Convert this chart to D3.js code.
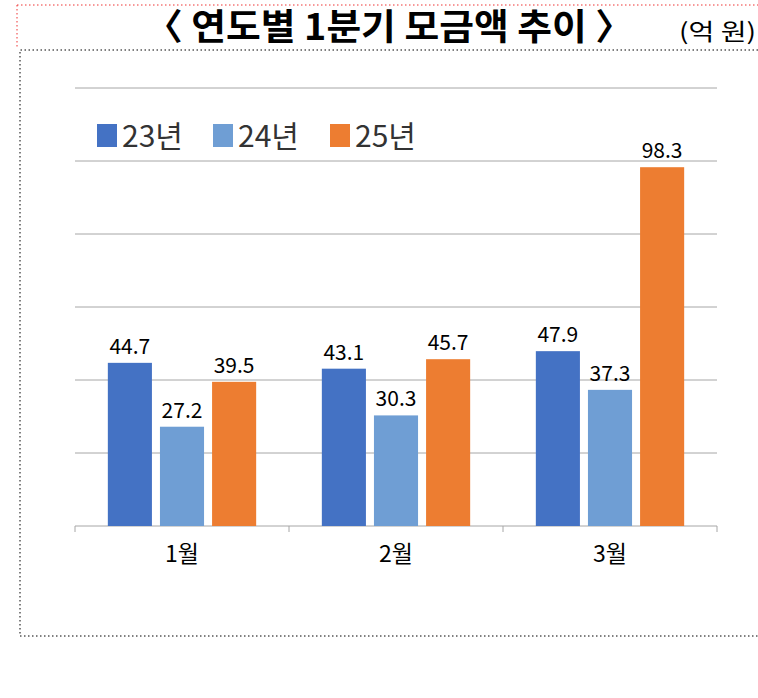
<!DOCTYPE html><html><head><meta charset="utf-8"><script src="https://cdn.jsdelivr.net/npm/d3@7"></script>
<style>body{margin:0;background:#fff}</style></head><body><svg id="c" width="758" height="698"></svg>
<script>
const categories=["1월","2월","3월"];
const seriesNames=["23년","24년","25년"];
const v23=[44.7,43.1,47.9];
const v24=[27.2,30.3,37.3];
const v25=[39.5,45.7,98.3];
const colors=["#4472C4","#6F9ED4","#ED7D31"];
const yTicks=[0,20,40,60,80,100,120];
const svg=d3.select("#c");
const F="'Noto Sans CJK KR','Noto Sans',sans-serif";
svg.append("line").attr("x1",17).attr("x2",758).attr("y1",5).attr("y2",5).attr("stroke","#e33").attr("stroke-dasharray","1.5,2.5");
svg.append("line").attr("x1",17).attr("x2",17).attr("y1",5).attr("y2",48).attr("stroke","#e33").attr("stroke-dasharray","1.5,2.5");
svg.append("path").attr("d","M758,50 H20 V636 H758").attr("fill","none").attr("stroke","#000").attr("stroke-dasharray","1.5,2.5");
svg.append("text").attr("x",145).attr("y",40).attr("textLength",488).attr("lengthAdjust","spacingAndGlyphs").attr("font-family",F).attr("font-weight","bold").attr("font-size",36).text("〈 연도별 1분기 모금액 추이 〉");
svg.append("text").attr("x",679).attr("y",40).attr("textLength",77).attr("lengthAdjust","spacingAndGlyphs").attr("font-family",F).attr("font-size",23).text("(억 원)");
const x=d3.scaleBand().domain(categories).range([75,717]);
const y=d3.scaleLinear().domain([0,120]).range([526,88]);
const xs=d3.scaleBand().domain(seriesNames).range([0,x.bandwidth()]).paddingInner(0.154).paddingOuter(0.63);
svg.selectAll(".g").data(yTicks.slice(1)).join("line").attr("x1",75).attr("x2",717).attr("y1",d=>y(d)).attr("y2",d=>y(d)).attr("stroke","#a6a6a6");
const ax=svg.append("g").attr("transform","translate(0,526)").call(d3.axisBottom(x).tickSize(6).tickPadding(14));
ax.select(".domain").attr("stroke","#a6a6a6").attr("d","M75,6V0H717V6");
ax.selectAll(".tick line").attr("stroke","#a6a6a6").attr("transform",`translate(${x.bandwidth()/2},0)`);
ax.selectAll(".tick:last-of-type line").remove();
ax.selectAll("text").attr("font-family",F).attr("font-size",23).attr("fill","#000");
const data=[v23,v24,v25];
data.forEach((arr,si)=>{
 const g=svg.append("g");
 g.selectAll("rect").data(arr).join("rect").attr("x",(d,i)=>x(categories[i])+xs(seriesNames[si])).attr("width",xs.bandwidth())
  .attr("y",d=>y(d)).attr("height",d=>526-y(d)).attr("fill",colors[si]);
 g.selectAll("text").data(arr).join("text").attr("x",(d,i)=>x(categories[i])+xs(seriesNames[si])+xs.bandwidth()/2).attr("y",d=>y(d)-9)
  .attr("text-anchor","middle").attr("font-family",F).attr("font-size",21).text(d=>d.toFixed(1));
});
const lx=[97,213,330];
seriesNames.forEach((s,i)=>{
 svg.append("rect").attr("x",lx[i]).attr("y",124).attr("width",20).attr("height",23).attr("fill",colors[i]);
 svg.append("text").attr("x",lx[i]+25).attr("y",147).attr("font-family",F).attr("font-size",30).attr("fill","#333").text(s);
});
</script></body></html>
